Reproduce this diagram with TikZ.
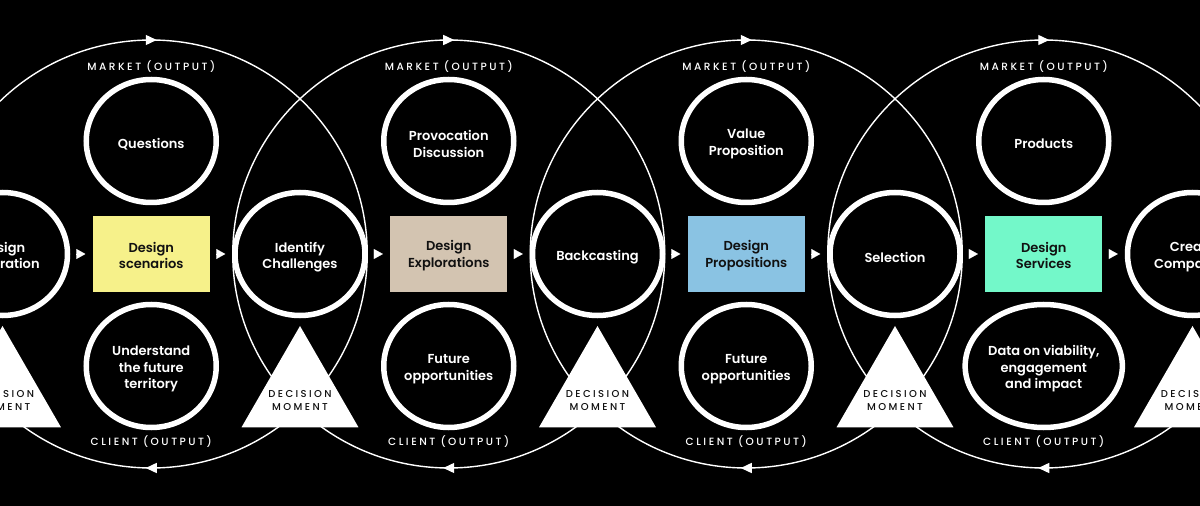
\documentclass[tikz,border=0pt]{standalone}
\usepackage{fontspec}
\setmainfont{Poppins SemiBold}
\newfontfamily\capsfont{Poppins Medium}[LetterSpace=24]
\usetikzlibrary{shapes.geometric,arrows.meta,decorations.markings}
\definecolor{scenyellow}{HTML}{F6F18A}
\definecolor{explbeige}{HTML}{D3C4B1}
\definecolor{propblue}{HTML}{8AC3E3}
\definecolor{servmint}{HTML}{73F8C9}
\definecolor{inkdark}{HTML}{111111}

\begin{document}
\begin{tikzpicture}[x=1pt, y=1pt, node distance=148.75pt, thick]
   \tikzstyle{every node} = [inner sep=0pt, align=center, font=\fontsize{13pt}{16.5pt}\selectfont];
   \tikzstyle{stage} = [ellipse, draw=white, line width=5.5pt, fill=black, text=white, minimum width=130pt, minimum height=123pt,
      execute at begin node={\vbox\bgroup\vskip6pt\hbox\bgroup}, execute at end node={\egroup\egroup}];
   \tikzstyle{design} = [rectangle, text=inkdark, minimum width=117pt, minimum height=76pt,
      execute at begin node={\vbox\bgroup\vskip3pt\hbox\bgroup}, execute at end node={\egroup\egroup}];
   \tikzstyle{decision} = [regular polygon, regular polygon sides=3, fill=white, minimum size=135pt];
   \tikzstyle{dectext} = [text=inkdark, font=\capsfont\fontsize{10pt}{13pt}\selectfont, yshift=-7pt];
   \tikzstyle{output} = [text=white, font=\capsfont\fontsize{10.5pt}{12pt}\selectfont];
   \tikzstyle{flow} = [white, line width=0.1pt, -{Triangle[length=9pt,width=10pt]}, shorten <=7pt, shorten >=7pt];
   \tikzstyle{cycleline} = [white, line width=1.4pt, postaction={decorate},
      decoration={markings,
        mark=at position 0.25 with {\arrow[xshift=5.5pt]{Triangle[length=11pt,width=10pt]}},
        mark=at position 0.75 with {\arrow[xshift=5.5pt]{Triangle[length=11pt,width=10pt]}}}];

   \useasboundingbox (0,-252) rectangle (1200,254);
   \fill[black] (0,-252) rectangle (1200,254);

   % main row
   \node[stage]                     (m0) at (2.5,0)   {Design\\Exploration};
   \node[design, fill=scenyellow]   (r1) [right of = m0] {Design\\scenarios};
   \node[stage]                     (m1) [right of = r1] {Identify\\Challenges};
   \node[design, fill=explbeige]    (r2) [right of = m1] {Design\\Explorations};
   \node[stage]                     (m2) [right of = r2] {Backcasting};
   \node[design, fill=propblue]     (r3) [right of = m2] {Design\\Propositions};
   \node[stage]                     (m3) [right of = r3] {Selection};
   \node[design, fill=servmint]     (r4) [right of = m3] {Design\\Services};
   \node[stage]                     (m4) [right of = r4] {Create\\Companies};

   % market and client outputs
   \node[stage, node distance=113pt] (q1) [above of = r1] {Questions};
   \node[stage, node distance=112pt] (c1) [below of = r1] {Understand\\the future\\territory};
   \node[stage, node distance=113pt] (q2) [above of = r2] {Provocation\\Discussion};
   \node[stage, node distance=112pt] (c2) [below of = r2] {Future\\opportunities};
   \node[stage, node distance=113pt] (q3) [above of = r3] {Value\\Proposition};
   \node[stage, node distance=112pt] (c3) [below of = r3] {Future\\opportunities};
   \node[stage, node distance=113pt] (q4) [above of = r4] {Products};
   \node[stage, node distance=112pt] (c4) [below of = r4] {Data on viability,\\engagement\\and impact};

   \node[output, node distance=74pt] (mk1) [above of = q1] {MARKET (OUTPUT)};
   \node[output, node distance=74pt] (mk2) [above of = q2] {MARKET (OUTPUT)};
   \node[output, node distance=74pt] (mk3) [above of = q3] {MARKET (OUTPUT)};
   \node[output, node distance=74pt] (mk4) [above of = q4] {MARKET (OUTPUT)};
   \node[output, node distance=76pt] (cl1) [below of = c1] {CLIENT (OUTPUT)};
   \node[output, node distance=76pt] (cl2) [below of = c2] {CLIENT (OUTPUT)};
   \node[output, node distance=76pt] (cl3) [below of = c3] {CLIENT (OUTPUT)};
   \node[output, node distance=76pt] (cl4) [below of = c4] {CLIENT (OUTPUT)};

   % the four loops
   \draw[cycleline] (r1.center) ++(216,0) arc[start angle=0, end angle=-360, x radius=216, y radius=214];
   \draw[cycleline] (r2.center) ++(216,0) arc[start angle=0, end angle=-360, x radius=216, y radius=214];
   \draw[cycleline] (r3.center) ++(216,0) arc[start angle=0, end angle=-360, x radius=216, y radius=214];
   \draw[cycleline] (r4.center) ++(216,0) arc[start angle=0, end angle=-360, x radius=216, y radius=214];

   \draw[flow] (m0) -- (r1);
   \draw[flow] (r1) -- (m1);
   \draw[flow] (m1) -- (r2);
   \draw[flow] (r2) -- (m2);
   \draw[flow] (m2) -- (r3);
   \draw[flow] (r3) -- (m3);
   \draw[flow] (m3) -- (r4);
   \draw[flow] (r4) -- (m4);

   % decision moments
   \node[decision, node distance=139.5pt, label={[dectext]center:{DECISION\\MOMENT}}] (d0) [below of = m0] {};
   \node[decision, node distance=139.5pt, label={[dectext]center:{DECISION\\MOMENT}}] (d1) [below of = m1] {};
   \node[decision, node distance=139.5pt, label={[dectext]center:{DECISION\\MOMENT}}] (d2) [below of = m2] {};
   \node[decision, node distance=139.5pt, label={[dectext]center:{DECISION\\MOMENT}}] (d3) [below of = m3] {};
   \node[decision, node distance=139.5pt, label={[dectext]center:{DECISION\\MOMENT}}] (d4) [below of = m4] {};
\end{tikzpicture}
\end{document}
